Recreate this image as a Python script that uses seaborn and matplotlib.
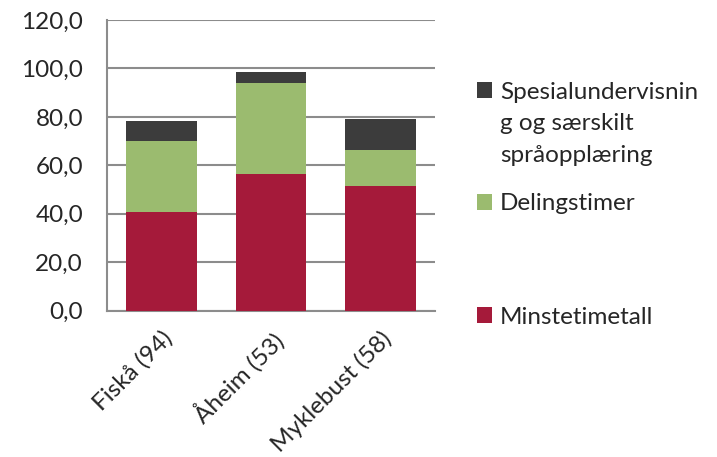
import matplotlib
matplotlib.use('Agg')
import matplotlib.pyplot as plt
import seaborn as sns
import numpy as np
from matplotlib.patches import Patch

# data
categories = ['Fiskå (94)', 'Åheim (53)', 'Myklebust (58)']
minstetimetall = [40.7, 56.4, 51.5]
delingstimer = [29.3, 37.6, 14.7]
spesial = [8.2, 4.5, 12.8]
series_names = ['Minstetimetall', 'Delingstimer',
                'Spesialundervisnin\ng og særskilt\nspråopplæring']
y_ticks = [0, 20, 40, 60, 80, 100, 120]

colors = ['#A51A3A', '#9BBB6F', '#3C3C3C']
FS = 17.5

sns.set_style('white')
plt.rcParams['font.family'] = ['Lato', 'DejaVu Sans']

fig = plt.figure(figsize=(7.17, 4.57), dpi=100)
ax = fig.add_axes([106.7 / 717, 1 - 310.7 / 457, 328.6 / 717, 290.7 / 457])

# stacked bars: draw cumulative totals, tallest first
stack = [minstetimetall, delingstimer, spesial]
cum = np.cumsum(np.array(stack), axis=0)
for i in range(len(stack) - 1, -1, -1):
    sns.barplot(x=categories, y=cum[i], color=colors[i], width=0.64,
                saturation=1, linewidth=0, ax=ax, zorder=3)

ax.set_ylim(0, 120)
ax.set_xlim(-0.5, 2.5)
ax.set_yticks(y_ticks)
ax.set_yticklabels([f'{v:.1f}'.replace('.', ',') for v in y_ticks], fontsize=FS)
ax.yaxis.grid(True, color='#8C8C8C', linewidth=1.5, zorder=0)
ax.set_axisbelow(True)
ax.tick_params(axis='y', length=0, pad=17)
ax.tick_params(axis='x', length=0, pad=12)
ax.set_xticks(range(len(categories)))
ax.set_xticklabels(categories, rotation=45, ha='right', rotation_mode='anchor',
                   fontsize=FS)
for s in ['top', 'right']:
    ax.spines[s].set_visible(False)
for s in ['left', 'bottom']:
    ax.spines[s].set_color('#8C8C8C')
    ax.spines[s].set_linewidth(1.5)
ax.set_xlabel('')
ax.set_ylabel('')

# legend entries placed like the reference (marker aligned with first line)
legend_y = [317, 204, 92]
for name, c, y in zip(series_names, colors, legend_y):
    lines = name.split('\n')
    fig.legend(handles=[Patch(facecolor=c, edgecolor='none')],
               labels=[lines[0]], loc='center left',
               bbox_to_anchor=(477 / 717, 1 - y / 457),
               frameon=False, fontsize=FS, handlelength=0.6,
               handleheight=0.6, handletextpad=0.35,
               borderaxespad=0, borderpad=0)
    for k, extra in enumerate(lines[1:], start=1):
        fig.text(500 / 717, 1 - (y + 32 * k) / 457, extra, fontsize=FS,
                 va='center', ha='left')

fig.savefig('out.png', dpi=100)
